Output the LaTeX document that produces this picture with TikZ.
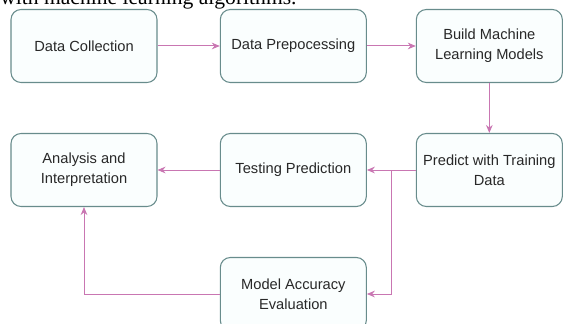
\documentclass[tikz,border=0pt]{standalone}
\usepackage{fontspec}
\setmainfont{Liberation Sans}
\newfontfamily\captionfont{Liberation Serif}
\usetikzlibrary{arrows.meta,calc}
\definecolor{flowpink}{RGB}{201,118,178}
\definecolor{boxline}{RGB}{104,140,140}
\definecolor{boxfill}{RGB}{250,254,254}
\definecolor{boxtext}{RGB}{40,40,40}

\begin{document}
\begin{tikzpicture}[
     x = 0.75pt, y = -0.75pt,
     stage/.style = {draw = boxline, fill = boxfill, line width = 0.8pt,
       rounded corners = 7.5pt, minimum width = 109.5pt, minimum height = 54.75pt,
       align = center, text = boxtext, font = \fontsize{11}{15}\selectfont},
     flow/.style = {draw = flowpink, line width = 0.75pt,
       -{Stealth[length = 6pt, width = 5pt]}}
    ]
    \useasboundingbox (0,0) rectangle (563,324);

    % text of the page above the chart, cut by the page edge
    \node[anchor = base west, inner sep = 0pt,
      font = \captionfont\fontsize{16.2}{18}\selectfont] (caption) at (0,5)
      {with machine learning algorithms.};

    \node[stage] (collect) at (84,46) {Data Collection};
    \node[stage, right of = collect, node distance = 157pt] (prep) {Data Prepocessing};
    \node[stage, right of = prep, node distance = 147pt] (build) {Build Machine\\Learning Models};

    \node[stage, below of = build, node distance = 93pt] (predict) {Predict with Training\\Data};
    \node[stage, below of = prep, node distance = 93pt] (testing) {Testing Prediction};
    \node[stage, below of = collect, node distance = 93pt] (analysis) {Analysis and\\Interpretation};

    \node[stage, below of = testing, node distance = 93pt] (accuracy) {Model Accuracy\\Evaluation};

    \coordinate (split) at ($(predict.west)!.5!(testing.east)$);

    \draw[flow] (collect) -- (prep);
    \draw[flow] (prep) -- (build);
    \draw[flow] (build) -- (predict);
    \draw[flow] (predict) -- (testing);
    \draw[flow] (split) |- (accuracy.east);
    \draw[flow] (testing) -- (analysis);
    \draw[flow] (accuracy.west) -| (analysis.south);
   \end{tikzpicture}
\end{document}
